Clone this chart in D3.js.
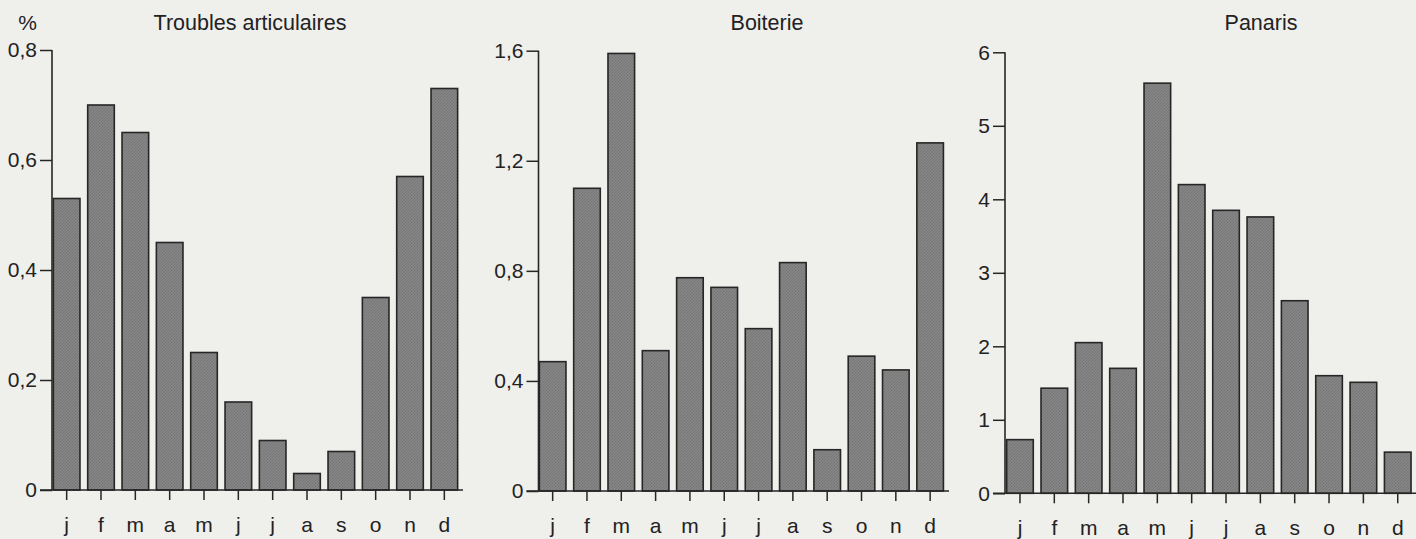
<!DOCTYPE html>
<html>
<head>
<meta charset="utf-8">
<script src="https://cdn.jsdelivr.net/npm/d3@7"></script>
<style>
  html, body { margin: 0; padding: 0; background: #efefec; }
  svg { display: block; }
  text { font-family: "Liberation Sans", Arial, Helvetica, sans-serif; fill: #222; }
</style>
</head>
<body>
<svg id="chart" width="1416" height="539"></svg>
<script>
// ---- Data ----
const months = ["j", "f", "m", "a", "m", "j", "j", "a", "s", "o", "n", "d"];
const troublesValues = [0.53, 0.70, 0.65, 0.45, 0.25, 0.16, 0.09, 0.03, 0.07, 0.35, 0.57, 0.73];
const boiterieValues = [0.47, 1.10, 1.59, 0.51, 0.775, 0.74, 0.59, 0.83, 0.15, 0.49, 0.44, 1.265];
const panarisValues  = [0.73, 1.43, 2.05, 1.70, 5.58, 4.20, 3.85, 3.76, 2.62, 1.60, 1.51, 0.56];
const troublesTicks = [0, 0.2, 0.4, 0.6, 0.8];
const boiterieTicks = [0, 0.4, 0.8, 1.2, 1.6];
const panarisTicks  = [0, 1, 2, 3, 4, 5, 6];
const titles = ["Troubles articulaires", "Boiterie", "Panaris"];
const unitLabel = "%";

// ---- Layout (positions / sizes only) ----
const panels = [
  { values: troublesValues, ticks: troublesTicks, title: titles[0], axisX: 52,   xRange: [49.5, 461.5],   yRange: [490, 50],   titleX: 250,  lineEnd: 463 },
  { values: boiterieValues, ticks: boiterieTicks, title: titles[1], axisX: 538.5, xRange: [535.5, 947.3], yRange: [491, 50.7], titleX: 767,  lineEnd: 949 },
  { values: panarisValues,  ticks: panarisTicks,  title: titles[2], axisX: 1005, xRange: [1002.8, 1414.9], yRange: [493.3, 52.3], titleX: 1261, lineEnd: 1416 }
];

const fmt = v => (Number.isInteger(v) ? String(v) : String(v).replace(".", ","));
const ink = "#262626";
const labelSize = 21;

const svg = d3.select("#chart");

// subtle halftone pattern for bars
const defs = svg.append("defs");
const pat = defs.append("pattern").attr("id", "tone")
  .attr("width", 3).attr("height", 3).attr("patternUnits", "userSpaceOnUse");
pat.append("rect").attr("width", 3).attr("height", 3).attr("fill", "#858585");
pat.append("rect").attr("x", 0).attr("y", 0).attr("width", 1).attr("height", 1).attr("fill", "#747474");
pat.append("rect").attr("x", 2).attr("y", 1).attr("width", 1).attr("height", 1).attr("fill", "#767676");
pat.append("rect").attr("x", 1).attr("y", 2).attr("width", 1).attr("height", 1).attr("fill", "#787878");

panels.forEach(p => {
  const g = svg.append("g");
  const x = d3.scaleBand().domain(d3.range(months.length)).range(p.xRange)
    .paddingInner(0.225).paddingOuter(0.1125);
  const yMax = d3.max(p.ticks);
  const y = d3.scaleLinear().domain([0, yMax]).range(p.yRange);

  // bars
  g.selectAll("rect.bar").data(p.values).join("rect")
    .attr("class", "bar")
    .attr("x", (d, i) => x(i))
    .attr("width", x.bandwidth())
    .attr("y", d => y(d))
    .attr("height", d => y(0) - y(d))
    .attr("fill", "url(#tone)")
    .attr("stroke", ink)
    .attr("stroke-width", 1.6);

  // y axis
  const yAxis = d3.axisLeft(y).tickValues(p.ticks).tickFormat(fmt)
    .tickSize(12).tickSizeOuter(0).tickPadding(3);
  const ya = g.append("g").attr("transform", `translate(${p.axisX},0)`).call(yAxis);
  ya.select(".domain").remove();
  ya.selectAll(".tick line").attr("stroke", ink).attr("stroke-width", 1.5);
  ya.selectAll(".tick text").attr("font-size", labelSize).attr("fill", "#222")
    .attr("font-family", "'Liberation Sans', Arial, sans-serif");
  g.append("line")
    .attr("x1", p.axisX).attr("x2", p.axisX)
    .attr("y1", y(0)).attr("y2", y(yMax))
    .attr("stroke", ink).attr("stroke-width", 1.6);

  // x axis
  const xAxis = d3.axisBottom(x).tickFormat(i => months[i])
    .tickSize(10).tickSizeOuter(0).tickPadding(17);
  const xa = g.append("g").attr("transform", `translate(0,${y(0)})`).call(xAxis);
  xa.select(".domain").remove();
  xa.selectAll(".tick line").attr("stroke", ink).attr("stroke-width", 1.5);
  xa.selectAll(".tick text").attr("font-size", labelSize).attr("fill", "#222")
    .attr("font-family", "'Liberation Sans', Arial, sans-serif");
  g.append("line")
    .attr("x1", p.axisX - 12).attr("x2", p.lineEnd)
    .attr("y1", y(0)).attr("y2", y(0))
    .attr("stroke", ink).attr("stroke-width", 1.6);

  // title
  g.append("text").attr("x", p.titleX).attr("y", 30)
    .attr("text-anchor", "middle").attr("font-size", 21.5)
    .text(p.title);
});

svg.append("text").attr("x", 27.5).attr("y", 30)
  .attr("text-anchor", "middle").attr("font-size", 21)
  .text(unitLabel);
</script>
</body>
</html>
